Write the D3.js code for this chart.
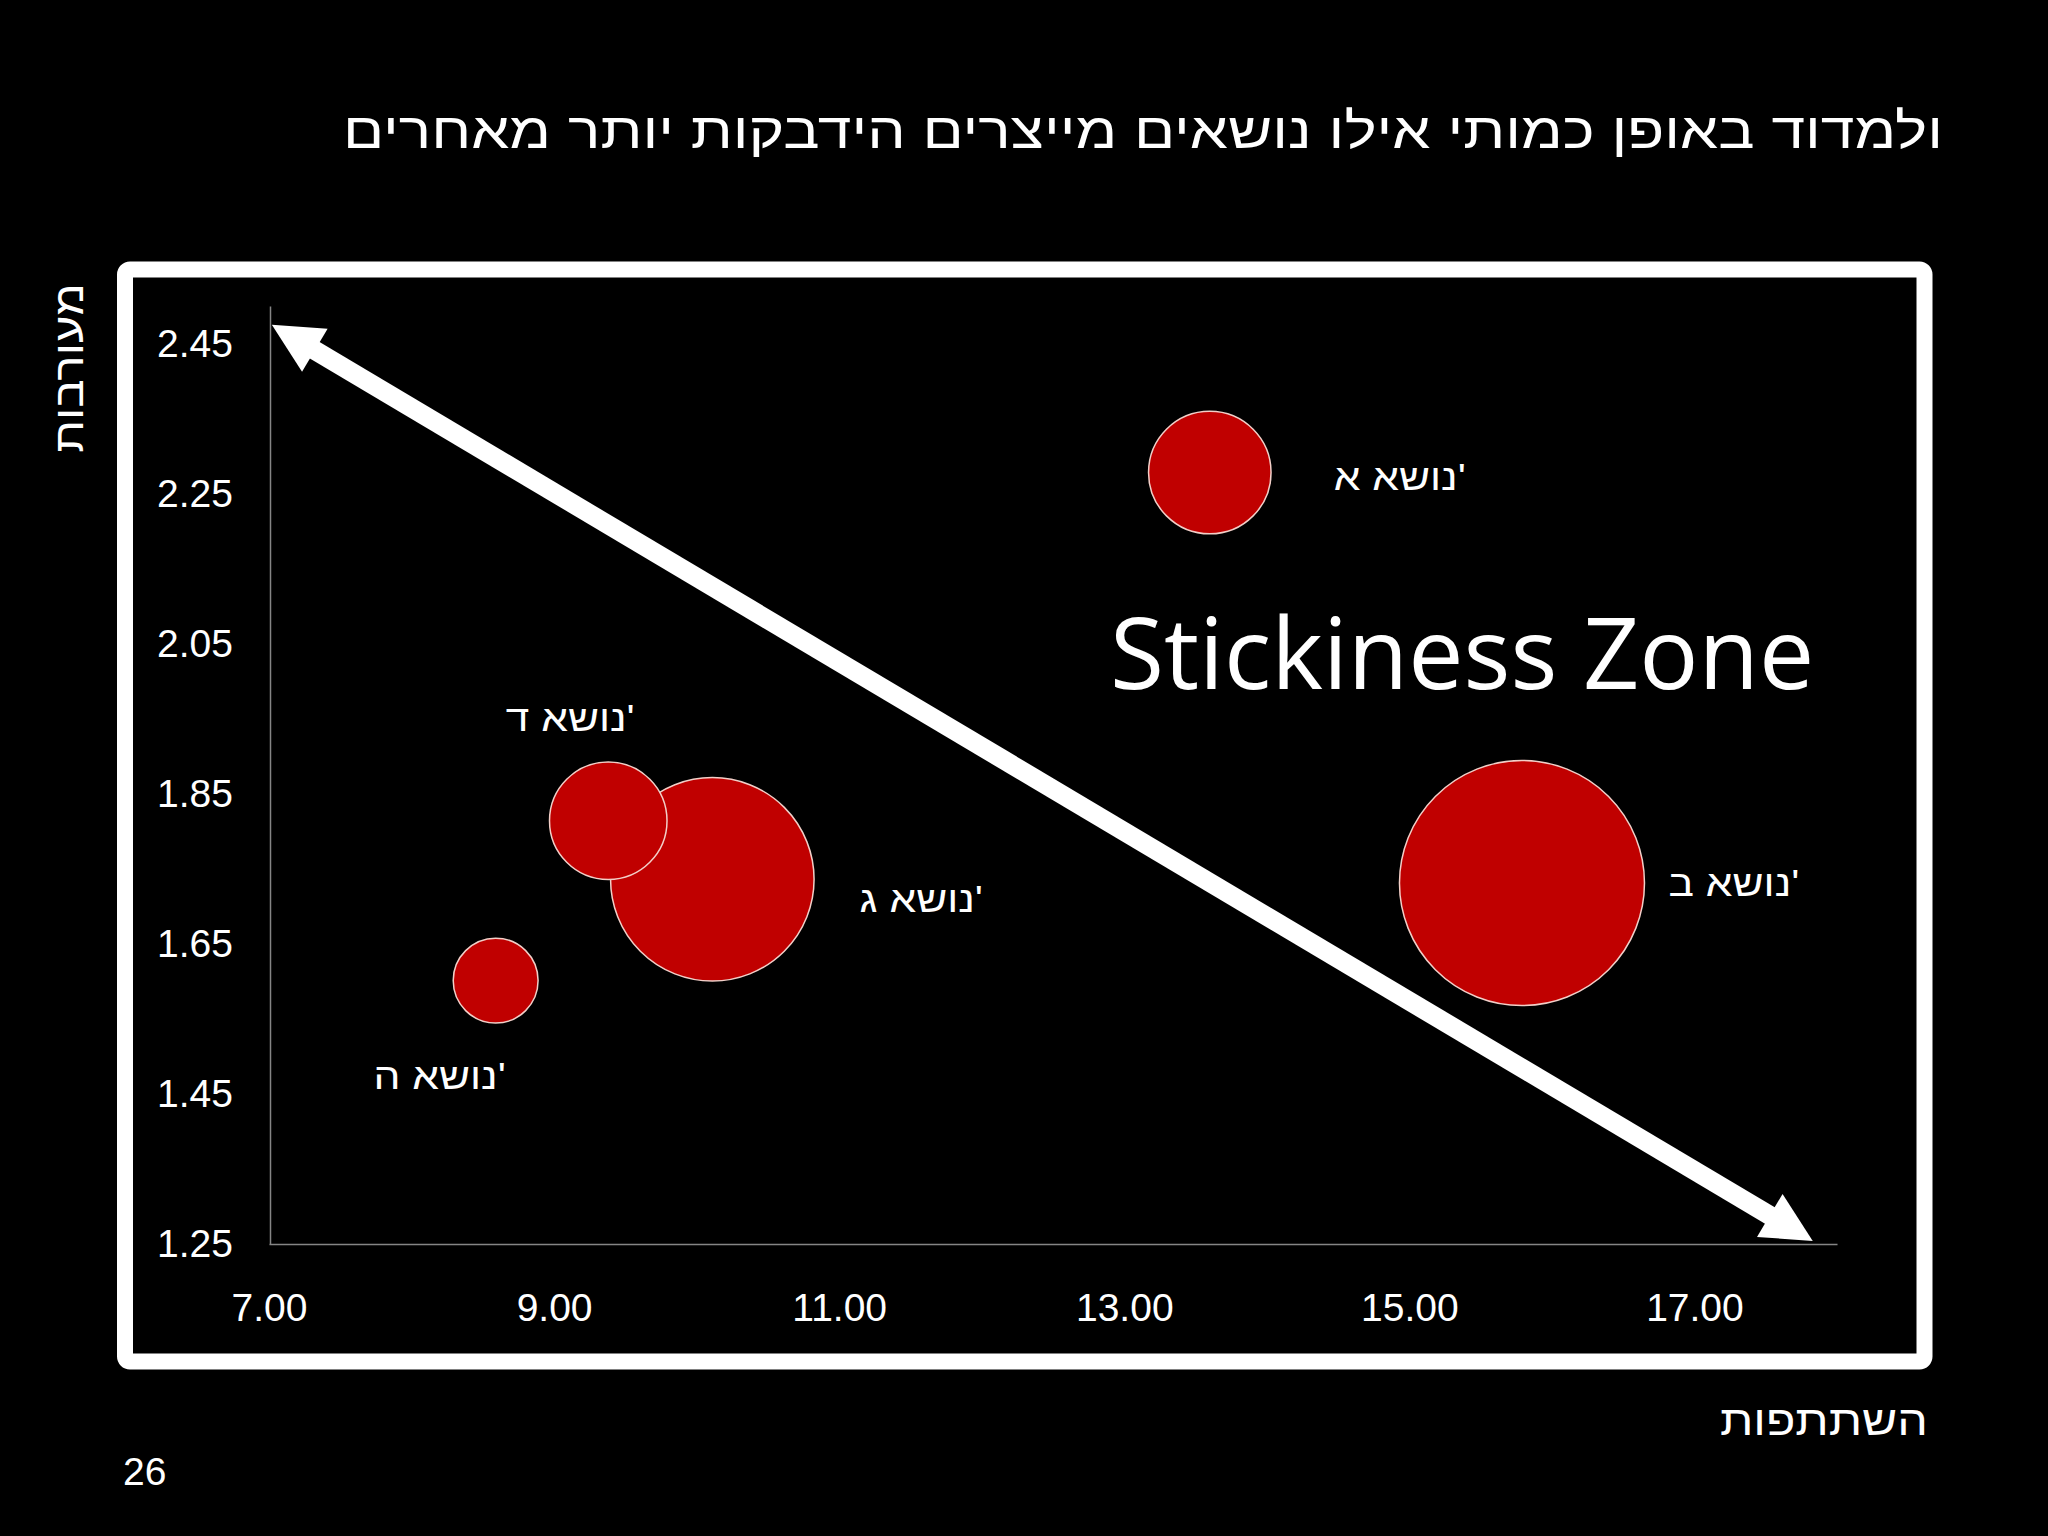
<!DOCTYPE html>
<html>
<head>
<meta charset="utf-8">
<script src="https://cdn.jsdelivr.net/npm/d3@7"></script>
<style>
	body { margin: 0; background: #000; }
	svg { display: block; }
</style>
</head>
<body>
<div id="slide"></div>
<script>
// data
var topics = ["נושא א'", "נושא ב'", "נושא ג'", "נושא ד'", "נושא ה'"];
var participation = [13.60, 15.79, 10.11, 9.38, 8.59];
var engagement = [2.278, 1.731, 1.736, 1.814, 1.601];
var bubbleSize = [25, 100, 69, 23, 12];

var xTicks = [7, 9, 11, 13, 15, 17];
var yTicks = [1.25, 1.45, 1.65, 1.85, 2.05, 2.25, 2.45];

// the big double arrow, in chart units
var arrowStart = [7.02, 2.475];
var arrowEnd = [17.83, 1.254];

var titleText = "ולמדוד באופן כמותי אילו נושאים מייצרים הידבקות יותר מאחרים";
var xTitle = "השתתפות";
var yTitle = "מעורבות";
var zoneText = "Stickiness Zone";
var pageNumber = "26";

var rows = topics.map(function(t, i) {
	return { name: t, x: participation[i], y: engagement[i], size: bubbleSize[i], i: i };
});

// scales
var xScale = d3.scaleLinear()
				.domain([7, 18])
				.range([269, 1837]);

var yScale = d3.scaleLinear()
				.domain([1.25, 2.5])
				.range([1244, 306]);

var rScale = d3.scaleSqrt()
				.domain([0, 100])
				.range([0, 122.5]);

var svg = d3.select("#slide").append("svg")
			.attr("width", 2048)
			.attr("height", 1536)
			.style("background", "#000");

var font = "'Liberation Sans', Arial, sans-serif";

// the hebrew face on the slide is wider than Liberation, stretch it a bit
function widen(sel, k) {
	sel.each(function() {
		var w = this.getComputedTextLength();
		d3.select(this)
			.attr("textLength", w * k)
			.attr("lengthAdjust", "spacingAndGlyphs");
	});
}

// title
svg.append("text")
	.attr("x", 1943)
	.attr("y", 148)
	.attr("text-anchor", "end")
	.attr("textLength", 1600)
	.attr("lengthAdjust", "spacingAndGlyphs")
	.style("font-family", font)
	.style("font-size", "50px")
	.style("fill", "#fff")
	.text(titleText);

// white frame
svg.append("rect")
	.attr("x", 125)
	.attr("y", 269.5)
	.attr("width", 1799.5)
	.attr("height", 1092)
	.attr("rx", 5)
	.style("fill", "none")
	.style("stroke", "#fff")
	.style("stroke-width", 16);

// axes
var xAxis = svg.append("g")
				.attr("transform", "translate(0," + yScale(1.25) + ")")
				.call(d3.axisBottom(xScale)
					.tickValues(xTicks)
					.tickFormat(d3.format(".2f"))
					.tickSize(0)
					.tickPadding(49));

var yAxis = svg.append("g")
				.attr("transform", "translate(270,0)")
				.call(d3.axisLeft(yScale)
					.tickValues(yTicks)
					.tickFormat(d3.format(".2f"))
					.tickSize(0)
					.tickPadding(37));

[xAxis, yAxis].forEach(function(ax) {
	ax.select(".domain")
		.style("stroke", "#858585")
		.style("stroke-width", 1.5);
	ax.selectAll("text")
		.style("font-family", font)
		.style("font-size", "39px")
		.style("fill", "#fff");
});

// bubbles
svg.append("g")
	.selectAll("circle")
		.data(rows)
		.enter().append("circle")
			.attr("cx", function(d) {
				return xScale(d.x);
			})
			.attr("cy", function(d) {
				return yScale(d.y);
			})
			.attr("r", function(d) {
				return rScale(d.size);
			})
			.style("fill", "#c00000")
			.style("stroke", "#f2cfc8")
			.style("stroke-width", 1.5);

// bubble labels, placed by hand like on the slide
var labelDx = [190, 212, 209, -38, -56];
var labelDy = [17, 13, 33, -90, 108];

svg.append("g")
	.selectAll("text")
		.data(rows)
		.enter().append("text")
			.attr("x", function(d) {
				return xScale(d.x) + labelDx[d.i];
			})
			.attr("y", function(d) {
				return yScale(d.y) + labelDy[d.i];
			})
			.attr("text-anchor", "middle")
			.style("font-family", font)
			.style("font-size", "37px")
			.style("fill", "#fff")
			.text(function(d) {
				return d.name;
			})
			.call(widen, 1.15);

// double arrow
var p1 = [xScale(arrowStart[0]), yScale(arrowStart[1])];
var p2 = [xScale(arrowEnd[0]), yScale(arrowEnd[1])];
var len = Math.hypot(p2[0] - p1[0], p2[1] - p1[1]);
var ux = (p2[0] - p1[0]) / len, uy = (p2[1] - p1[1]) / len;
var nx = -uy, ny = ux;
var headLen = 50, headHalf = 25;

svg.append("line")
	.attr("x1", p1[0] + ux * (headLen - 6))
	.attr("y1", p1[1] + uy * (headLen - 6))
	.attr("x2", p2[0] - ux * (headLen - 6))
	.attr("y2", p2[1] - uy * (headLen - 6))
	.style("stroke", "#fff")
	.style("stroke-width", 19);

[[p1, 1], [p2, -1]].forEach(function(h) {
	var tip = h[0], s = h[1];
	var bx = tip[0] + s * ux * headLen, by = tip[1] + s * uy * headLen;
	svg.append("path")
		.attr("d", "M" + tip[0] + "," + tip[1] +
			"L" + (bx + nx * headHalf) + "," + (by + ny * headHalf) +
			"L" + (bx - nx * headHalf) + "," + (by - ny * headHalf) + "Z")
		.style("fill", "#fff");
});

// zone label
svg.append("text")
	.attr("x", 1110)
	.attr("y", 689)
	.style("font-family", "'Open Sans', sans-serif")
	.style("font-size", "98.5px")
	.style("fill", "#fff")
	.text(zoneText);

// axis titles
svg.append("text")
	.attr("x", 1928)
	.attr("y", 1435)
	.attr("text-anchor", "end")
	.style("font-family", font)
	.style("font-size", "42px")
	.style("fill", "#fff")
	.text(xTitle)
	.call(widen, 1.15);

svg.append("text")
	.attr("transform", "translate(83,368) rotate(-90)")
	.attr("text-anchor", "middle")
	.style("font-family", font)
	.style("font-size", "42px")
	.style("fill", "#fff")
	.text(yTitle)
	.call(widen, 1.13);

// page number
svg.append("text")
	.attr("x", 123)
	.attr("y", 1485)
	.style("font-family", font)
	.style("font-size", "39px")
	.style("fill", "#fff")
	.text(pageNumber);
</script>
</body>
</html>
